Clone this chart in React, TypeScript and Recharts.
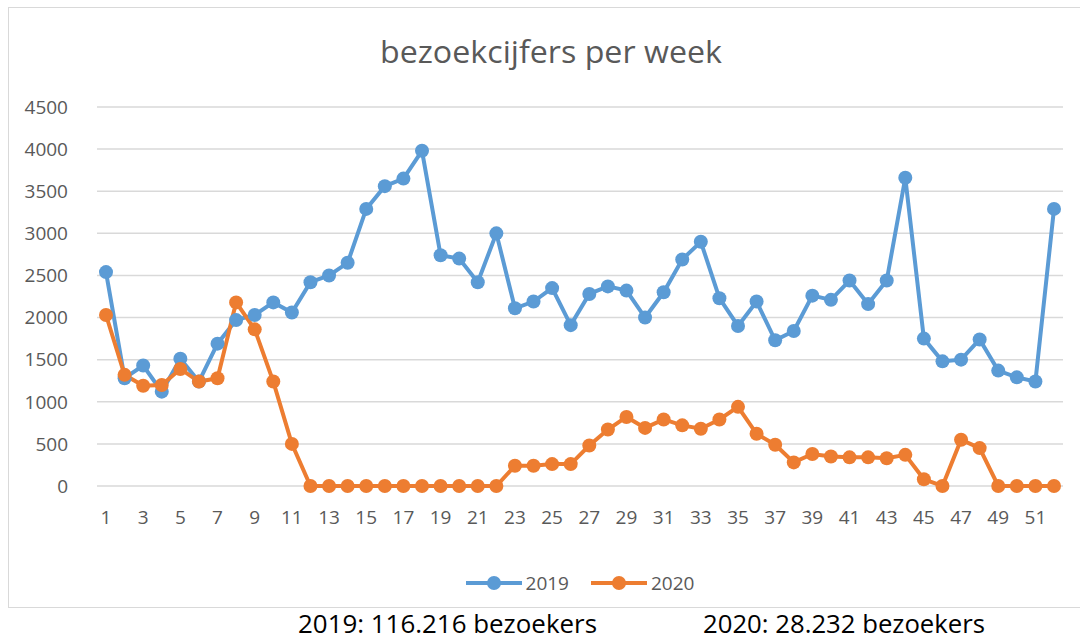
import React from 'react';
import { LineChart, Line, XAxis, YAxis, CartesianGrid, Legend } from 'recharts';

const weeks = Array.from({ length: 52 }, (_, i) => String(i + 1));

const visitors2019 = [
  2540, 1280, 1430, 1120, 1510, 1240, 1690, 1970, 2030, 2180,
  2060, 2420, 2500, 2650, 3290, 3560, 3650, 3980, 2740, 2700,
  2420, 3000, 2110, 2190, 2350, 1910, 2280, 2370, 2320, 2000,
  2300, 2690, 2900, 2230, 1900, 2190, 1730, 1840, 2260, 2210,
  2440, 2160, 2440, 3660, 1750, 1480, 1500, 1740, 1370, 1290,
  1240, 3290,
];

const visitors2020 = [
  2030, 1320, 1190, 1200, 1390, 1240, 1280, 2180, 1860, 1240,
  500, 0, 0, 0, 0, 0, 0, 0, 0, 0,
  0, 0, 240, 240, 260, 260, 480, 670, 820, 690,
  790, 720, 680, 790, 940, 620, 490, 280, 380, 350,
  340, 340, 330, 370, 80, 0, 550, 450, 0, 0,
  0, 0,
];

const yTicks = [0, 500, 1000, 1500, 2000, 2500, 3000, 3500, 4000, 4500];

const totals = ['2019: 116.216 bezoekers', '2020: 28.232 bezoekers'];

const BLUE = '#5B9BD5';
const ORANGE = '#ED7D31';
const GREY = '#595959';
const FONT = '"Open Sans", sans-serif';
const NARROW = '"Liberation Sans Narrow", "Open Sans", sans-serif';

const data = weeks.map((w, i) => ({
  week: w,
  y2019: visitors2019[i],
  y2020: visitors2020[i],
}));

function LegendContent(props: any) {
  const { payload } = props;
  return (
    <div style={{ display: 'flex', justifyContent: 'center', gap: 22, fontFamily: FONT, fontSize: 19, color: GREY }}>
      {(payload || []).map((p: any) => (
        <div key={p.value} style={{ display: 'flex', alignItems: 'center' }}>
          <svg width={56} height={16} style={{ marginRight: 4 }}>
            <line x1={0} y1={8} x2={56} y2={8} stroke={p.color} strokeWidth={4} />
            <circle cx={28} cy={8} r={7} fill={p.color} />
          </svg>
          <span>{p.value}</span>
        </div>
      ))}
    </div>
  );
}

export default function App() {
  return (
    <div style={{ position: 'absolute', left: 0, top: 0, width: 1080, height: 640, background: '#fff', overflow: 'hidden' }}>
      <div
        style={{
          position: 'absolute',
          left: 8,
          top: 7,
          width: 1100,
          height: 599,
          border: '1.5px solid #d9d9d9',
        }}
      />
      <svg width={1080} height={640} style={{ position: 'absolute', left: 0, top: 0 }}>
        <text
          x={551}
          y={63}
          textAnchor="middle"
          fontFamily={FONT}
          fontSize={31}
          fill={GREY}
          textLength={342}
          lengthAdjust="spacingAndGlyphs"
        >
          bezoekcijfers per week
        </text>
        <text x={298} y={633} fontFamily={NARROW} fontSize={26} fill="#000" textLength={299} lengthAdjust="spacingAndGlyphs">
          {totals[0]}
        </text>
        <text x={703} y={633} fontFamily={NARROW} fontSize={26} fill="#000" textLength={282} lengthAdjust="spacingAndGlyphs">
          {totals[1]}
        </text>
      </svg>
      <div style={{ position: 'absolute', left: 0, top: 0 }}>
        <LineChart width={1080} height={620} data={data} margin={{ top: 107, right: 17, bottom: 78, left: 17 }}>
          <CartesianGrid vertical={false} stroke="#d9d9d9" strokeWidth={1.5} />
          <XAxis
            dataKey="week"
            interval={1}
            axisLine={false}
            tickLine={false}
            tickMargin={19}
            height={30}
            padding={{ left: 9, right: 9 }}
            tick={{ fill: GREY, fontSize: 19, fontFamily: FONT }}
          />
          <YAxis
            domain={[0, 4500]}
            ticks={yTicks}
            axisLine={false}
            tickLine={false}
            width={80}
            tickMargin={23}
            tick={{ fill: GREY, fontSize: 19, fontFamily: FONT }}
          />
          <Legend
            verticalAlign="bottom"
            content={<LegendContent />}
            wrapperStyle={{ top: 570, left: 40, width: 1080 }}
          />
          <Line
            name="2019"
            dataKey="y2019"
            stroke={BLUE}
            strokeWidth={4}
            dot={{ r: 7, fill: BLUE, stroke: BLUE, strokeWidth: 0 }}
            activeDot={false}
            isAnimationActive={false}
          />
          <Line
            name="2020"
            dataKey="y2020"
            stroke={ORANGE}
            strokeWidth={4}
            dot={{ r: 7, fill: ORANGE, stroke: ORANGE, strokeWidth: 0 }}
            activeDot={false}
            isAnimationActive={false}
          />
        </LineChart>
      </div>
    </div>
  );
}
